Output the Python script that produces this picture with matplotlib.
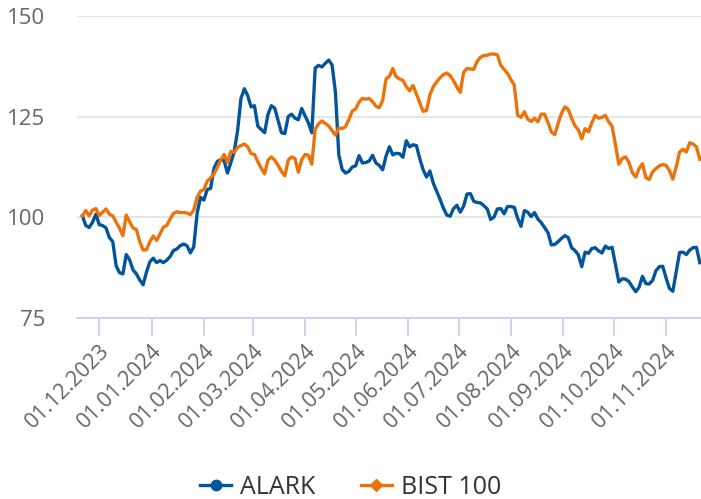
import matplotlib
matplotlib.use("Agg")
import matplotlib.pyplot as plt
import matplotlib.dates as mdates
from matplotlib.lines import Line2D
import pandas as pd

plt.rcParams['font.family'] = ['Open Sans', 'DejaVu Sans']

start_date = "2023-11-21"
end_date = "2024-11-21"
step = "2D"

alark = [
    100.4, 98.0, 97.5, 98.8, 100.8, 98.2, 98.0, 97.4, 95.0, 94.0,
    88.0, 86.3, 86.0, 90.8, 89.5, 87.0, 86.0, 84.5, 83.3, 86.5,
    89.0, 89.9, 88.8, 89.3, 88.8, 89.4, 90.3, 91.8, 92.2, 93.0,
    93.4, 93.0, 91.2, 92.7, 101.0, 105.0, 104.3, 106.9, 107.2, 112.2,
    113.9, 114.3, 114.1, 111.0, 113.6, 116.3, 121.5, 129.5, 131.9, 130.2,
    127.4, 127.7, 122.6, 121.8, 121.0, 125.5, 127.7, 127.1, 124.1, 121.0,
    120.8, 125.0, 125.6, 124.6, 124.2, 127.0, 125.2, 123.4, 121.0, 137.0,
    137.7, 137.3, 138.2, 139.0, 137.8, 131.0, 115.5, 111.9, 111.0, 111.4,
    112.5, 112.8, 115.3, 113.5, 113.6, 114.0, 115.4, 113.5, 112.9, 111.8,
    115.2, 117.5, 115.5, 115.9, 115.8, 114.9, 119.0, 117.5, 118.0, 117.8,
    114.6, 111.8, 110.0, 111.5, 108.5, 106.5, 104.5, 102.3, 100.6, 100.3,
    102.2, 103.0, 101.3, 102.8, 105.8, 105.9, 104.0, 103.7, 103.6, 102.9,
    102.1, 99.5, 100.1, 102.1, 102.2, 100.9, 102.7, 102.7, 102.5, 99.8,
    97.8, 101.7, 101.3, 100.2, 101.2, 99.6, 98.7, 97.5, 96.2, 93.2,
    93.3, 94.0, 94.8, 95.5, 95.0, 92.5, 91.8, 90.7, 87.8, 91.4,
    91.1, 92.3, 92.5, 91.7, 91.2, 92.9, 92.3, 92.6, 88.3, 84.0,
    84.8, 84.7, 84.1, 82.8, 81.6, 82.7, 85.4, 83.6, 83.5, 84.4,
    86.8, 87.8, 87.9, 85.0, 82.4, 81.7, 86.5, 91.3, 91.4, 90.8,
    91.9, 92.5, 92.6, 88.8,
]

bist100 = [
    100.4, 101.7, 100.4, 101.8, 102.2, 100.5, 101.3, 102.1, 100.8, 100.4,
    98.8, 97.3, 95.5, 100.6, 98.9, 97.4, 97.0, 94.0, 91.9, 92.0,
    94.0, 95.4, 94.3, 95.9, 97.6, 98.0, 99.6, 101.0, 101.4, 101.2,
    101.2, 101.1, 100.7, 101.8, 105.0, 106.5, 106.9, 109.0, 109.8, 110.8,
    112.4, 114.2, 115.6, 113.6, 116.4, 116.1, 117.4, 117.8, 118.2, 117.5,
    115.8, 115.6, 113.8, 112.2, 110.8, 114.2, 115.0, 114.2, 112.9, 111.4,
    110.3, 114.2, 115.0, 114.6, 111.2, 114.3, 115.6, 115.4, 113.2, 121.9,
    123.2, 123.9, 123.3, 122.7, 121.5, 120.4, 122.2, 122.0, 122.5, 124.3,
    126.4, 126.9, 128.6, 129.5, 129.3, 129.5, 128.7, 127.6, 127.2, 129.0,
    134.3, 135.0, 136.9, 134.9, 134.3, 134.0, 132.4, 131.4, 132.7, 130.6,
    128.4, 126.3, 126.5, 130.4, 132.4, 133.6, 134.6, 135.4, 135.8, 135.1,
    133.9, 132.3, 131.0, 136.0, 136.9, 136.8, 136.7, 138.7, 139.7, 140.1,
    140.2, 140.5, 140.5, 140.3, 137.7, 136.7, 135.7, 134.2, 132.8, 125.3,
    124.8, 126.2, 124.3, 123.8, 124.6, 123.7, 125.6, 125.6, 123.5, 121.2,
    120.5, 123.3, 125.8, 127.4, 126.8, 124.6, 122.7, 121.7, 119.5, 122.0,
    121.2, 123.5, 125.3, 124.6, 124.8, 125.3, 123.7, 122.6, 118.0, 113.2,
    114.6, 115.0, 113.6, 111.1, 110.0, 112.1, 113.3, 109.9, 109.4, 111.3,
    112.1, 112.8, 113.1, 112.9, 111.6, 109.5, 112.5, 116.2, 116.9, 116.2,
    118.5, 118.2, 117.5, 114.4,
]

tick_dates = ["01.12.2023", "01.01.2024", "01.02.2024", "01.03.2024",
              "01.04.2024", "01.05.2024", "01.06.2024", "01.07.2024",
              "01.08.2024", "01.09.2024", "01.10.2024", "01.11.2024"]
y_ticks = [75, 100, 125, 150]
series_names = ["ALARK", "BIST 100"]

dates = pd.date_range(start_date, end_date, freq=step)

blue = "#02559b"
orange = "#ea730c"
grid_c = "#e6e6e6"
axis_c = "#ccd6eb"
text_c = "#666666"

fig = plt.figure(figsize=(7.01, 4.99), dpi=100)
ax = fig.add_axes([77/701, (499-318.3)/499, 624/701, 302.6/499])

ax.plot(dates, alark, color=blue, lw=2.4, solid_joinstyle='round', zorder=3)
ax.plot(dates, bist100, color=orange, lw=2.4, solid_joinstyle='round', zorder=3)

ax.set_ylim(75, 150)
ax.set_yticks(y_ticks)
ax.set_xlim(pd.Timestamp("2023-12-01") - pd.Timedelta(days=13.2),
            pd.Timestamp("2023-12-01") + pd.Timedelta(days=356.7))

tick_pos = [pd.to_datetime(t, format="%d.%m.%Y") for t in tick_dates]
ax.set_xticks(tick_pos)
ax.set_xticklabels(tick_dates, rotation=45, ha='right', va='top',
                   rotation_mode='anchor', fontsize=15.5, color=text_c)

for y in y_ticks[1:]:
    ax.axhline(y, color=grid_c, lw=1.4, zorder=1)

for s in ['top', 'right', 'left']:
    ax.spines[s].set_visible(False)
ax.spines['bottom'].set_color(axis_c)
ax.spines['bottom'].set_linewidth(1.5)
ax.spines['bottom'].set_zorder(2)

ax.tick_params(axis='x', length=13, width=1.4, color=axis_c, pad=3)
ax.tick_params(axis='y', length=0, pad=23, labelsize=16, labelcolor=text_c)

handles = [
    Line2D([], [], color=blue, lw=2.4, marker='o', markersize=7.5),
    Line2D([], [], color=orange, lw=2.4, marker='D', markersize=6.5),
]
leg = fig.legend(handles, series_names, loc='center', bbox_to_anchor=(0.5, 1 - 487/499),
                 ncol=2, frameon=False, fontsize=18, handlelength=1.25,
                 handletextpad=0.35, columnspacing=1.8)
for t in leg.get_texts():
    t.set_color("#333333")

fig.savefig("out.png", dpi=100)
